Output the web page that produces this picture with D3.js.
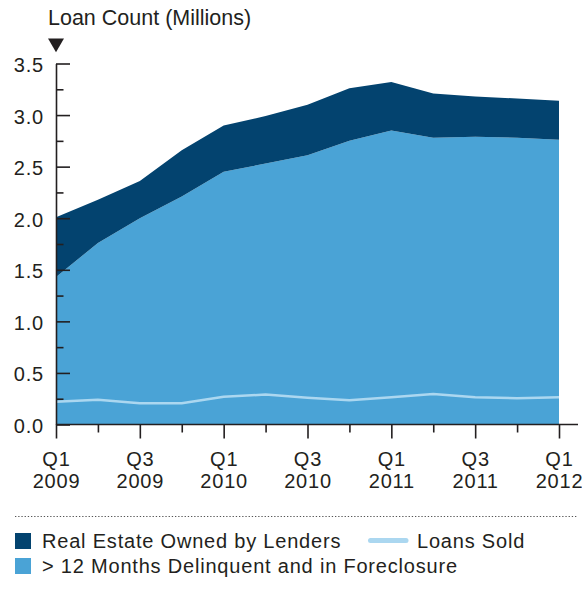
<!DOCTYPE html>
<html>
<head>
<meta charset="utf-8">
<script src="https://cdn.jsdelivr.net/npm/d3@7"></script>
<style>
  html, body { margin: 0; padding: 0; background: #fff; }
  svg { display: block; }
  text { font-family: "Liberation Sans", Arial, Helvetica, sans-serif; fill: #231f20; }
</style>
</head>
<body>
<svg id="chart" width="582" height="598"></svg>
<script>
// Quarterly loan counts, millions
const quarters = ["Q1 2009","Q2 2009","Q3 2009","Q4 2009",
                  "Q1 2010","Q2 2010","Q3 2010","Q4 2010",
                  "Q1 2011","Q2 2011","Q3 2011","Q4 2011","Q1 2012"];
const delinquent = [1.43, 1.76, 2.00, 2.21, 2.45, 2.53, 2.61, 2.75, 2.85, 2.78, 2.79, 2.78, 2.76];
const reo        = [0.58, 0.42, 0.36, 0.45, 0.45, 0.46, 0.49, 0.51, 0.47, 0.43, 0.39, 0.38, 0.38];
const loansSold  = [0.22, 0.24, 0.205, 0.205, 0.27, 0.29, 0.26, 0.235, 0.265, 0.295, 0.265, 0.255, 0.265];
const yMajorTicks = [0, 0.5, 1.0, 1.5, 2.0, 2.5, 3.0, 3.5];
const yMinorTicks = [0.25, 0.75, 1.25, 1.75, 2.25, 2.75, 3.25];

const colDark = "#03436f";
const colLight = "#4aa3d6";
const colSold = "#abd7f0";
const ink = "#231f20";

const svg = d3.select("#chart");
const margin = { left: 56, right: 23, top: 63.5, bottom: 173.5 };
const W = 582, H = 598;

const x = d3.scalePoint().domain(quarters).range([margin.left, W - margin.right]);
const y = d3.scaleLinear().domain([0, 3.5]).range([H - margin.bottom, margin.top]);

const rows = quarters.map((q, i) => ({ q, delinquent: delinquent[i], reo: reo[i], sold: loansSold[i] }));
const stack = d3.stack().keys(["delinquent", "reo"])(rows);

const area = d3.area()
  .x(d => x(d.data.q))
  .y0(d => y(d[0]))
  .y1(d => y(d[1]));

svg.append("g").selectAll("path")
  .data(stack)
  .join("path")
  .attr("fill", d => d.key === "delinquent" ? colLight : colDark)
  .attr("d", area);

// Loans sold line
svg.append("path")
  .datum(rows)
  .attr("fill", "none")
  .attr("stroke", colSold)
  .attr("stroke-width", 2.5)
  .attr("stroke-linejoin", "round")
  .attr("d", d3.line().x(d => x(d.q)).y(d => y(d.sold)));

// Y axis: major ticks with labels, minor ticks without
const yAxis = svg.append("g")
  .attr("transform", `translate(${margin.left},0)`)
  .call(d3.axisLeft(y).tickValues(yMajorTicks).tickFormat(d3.format(".1f"))
        .tickSize(-14).tickSizeOuter(0).tickPadding(12));
yAxis.select(".domain").attr("stroke", ink).attr("stroke-width", 1.6);
yAxis.selectAll(".tick line").attr("stroke", ink).attr("stroke-width", 1.6);
yAxis.selectAll(".tick text")
  .attr("font-size", 20).attr("letter-spacing", 0.8)
  .attr("dy", "0.4em").attr("fill", ink);

const yMinor = svg.append("g")
  .attr("transform", `translate(${margin.left},0)`)
  .call(d3.axisLeft(y).tickValues(yMinorTicks).tickFormat("").tickSize(-7.5).tickSizeOuter(0));
yMinor.select(".domain").remove();
yMinor.selectAll(".tick line").attr("stroke", ink).attr("stroke-width", 1.6);

// X axis
const majorQ = quarters.filter((q, i) => i % 2 === 0);
const minorQ = quarters.filter((q, i) => i % 2 === 1);
const xAxis = svg.append("g")
  .attr("transform", `translate(0,${y(0)})`)
  .call(d3.axisBottom(x).tickValues(majorQ).tickSize(14).tickSizeOuter(0).tickFormat(""));
xAxis.select(".domain").remove();
xAxis.selectAll(".tick line").attr("stroke", ink).attr("stroke-width", 1.6);
xAxis.selectAll(".tick text").remove();
xAxis.selectAll(".tick").each(function (q) {
  const parts = q.split(" ");
  const t = d3.select(this).append("text")
    .attr("text-anchor", "middle")
    .attr("font-size", 20).attr("letter-spacing", 0.8)
    .attr("fill", ink);
  t.append("tspan").attr("x", 0).attr("y", 41.5).text(parts[0]);
  t.append("tspan").attr("x", 0).attr("y", 63.5).text(parts[1]);
});
const xMinor = svg.append("g")
  .attr("transform", `translate(0,${y(0)})`)
  .call(d3.axisBottom(x).tickValues(minorQ).tickSize(8).tickSizeOuter(0).tickFormat(""));
xMinor.select(".domain").remove();
xMinor.selectAll(".tick line").attr("stroke", ink).attr("stroke-width", 1.6);

// baseline runs a little past the last quarter
svg.append("line")
  .attr("x1", margin.left).attr("x2", W - 4)
  .attr("y1", y(0)).attr("y2", y(0))
  .attr("stroke", ink).attr("stroke-width", 1.6);

// Title and marker
svg.append("text")
  .attr("x", 48).attr("y", 25)
  .attr("font-size", 21.5)
  .text("Loan Count (Millions)");
svg.append("path")
  .attr("d", d3.symbol().type(d3.symbolTriangle).size(110))
  .attr("transform", `translate(${margin.left},43) rotate(180)`)
  .attr("fill", ink);

// Legend
svg.append("line")
  .attr("x1", 15).attr("x2", W - 4)
  .attr("y1", 516.5).attr("y2", 516.5)
  .attr("stroke", "#555").attr("stroke-width", 1.2)
  .attr("stroke-dasharray", "1.3,1.9");

const legend = svg.append("g").attr("font-size", 20);
legend.append("rect").attr("x", 15).attr("y", 533).attr("width", 16).attr("height", 16).attr("fill", colDark);
legend.append("text").attr("x", 42).attr("y", 548).attr("letter-spacing", 0.8)
  .text("Real Estate Owned by Lenders");
legend.append("rect").attr("x", 15).attr("y", 558).attr("width", 16).attr("height", 16).attr("fill", colLight);
legend.append("text").attr("x", 42).attr("y", 573).attr("letter-spacing", 0.8)
  .text("> 12 Months Delinquent and in Foreclosure");
legend.append("line")
  .attr("x1", 370.5).attr("x2", 406)
  .attr("y1", 540.5).attr("y2", 540.5)
  .attr("stroke", colSold).attr("stroke-width", 5).attr("stroke-linecap", "round");
legend.append("text").attr("x", 417).attr("y", 548).attr("letter-spacing", 0.8)
  .text("Loans Sold");
</script>
</body>
</html>
